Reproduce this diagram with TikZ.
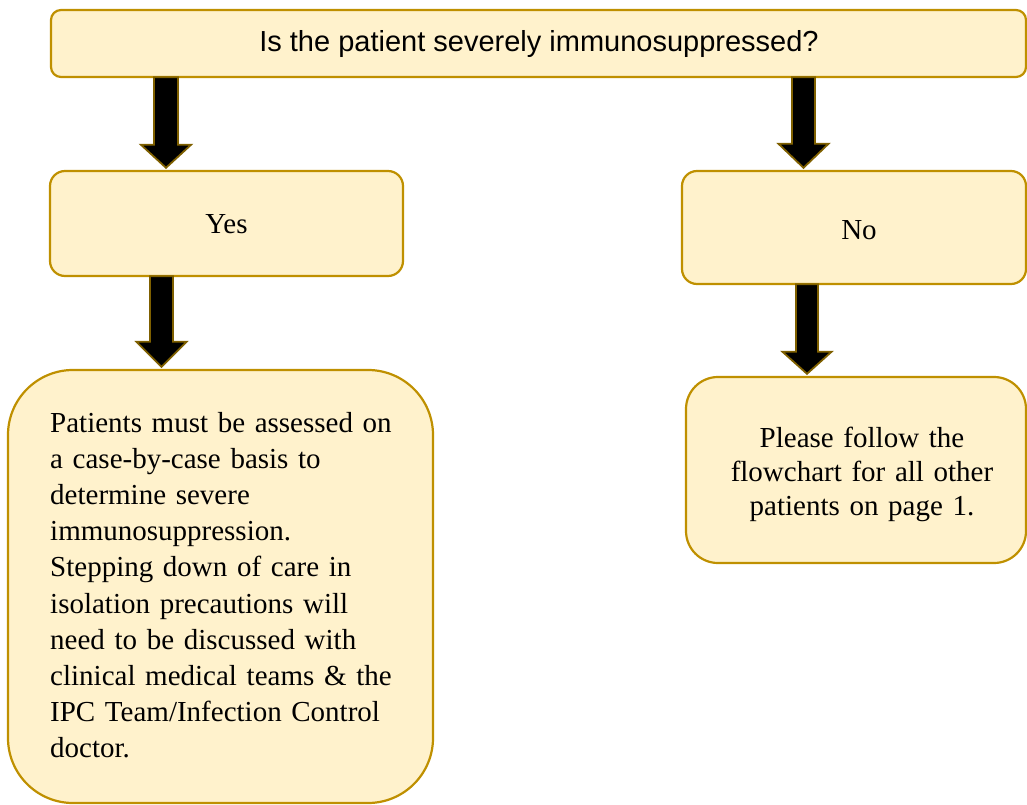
\documentclass[tikz,border=0pt]{standalone}
\usepackage{fontspec}
\setmainfont{Liberation Serif}
\newfontfamily\arialf{Liberation Sans}
\usetikzlibrary{calc}
\definecolor{boxfill}{HTML}{FFF2CC}
\definecolor{boxline}{HTML}{BF9000}
\definecolor{arrline}{HTML}{7F6000}
\tikzset{
  fbox/.style={draw=boxline, fill=boxfill, line width=2.2pt},
  blockarr/.style={fill=black, draw=arrline, line width=1.8pt, line join=miter},
  txt/.style={inner sep=0pt, font=\fontsize{29}{36.2}\selectfont}
}
% #1 x centre (pt), #2 source node, #3 target node, #4 shaft half width, #5 head half width, #6 head length
\newcommand\blockarrow[6]{%
  \path[blockarr] let \p1=(#2.south), \p2=(#3.north) in
    (#1pt-#4pt,\y1) -- (#1pt+#4pt,\y1) -- (#1pt+#4pt,\y2+#6pt+3pt) -- (#1pt+#5pt,\y2+#6pt+3pt)
    -- (#1pt,\y2+3pt) -- (#1pt-#5pt,\y2+#6pt+3pt) -- (#1pt-#4pt,\y2+#6pt+3pt) -- cycle;}
\begin{document}
\begin{tikzpicture}[x=1pt,y=1pt]
\useasboundingbox (0,0) rectangle (1027,-805);
% boxes
\path[fbox, rounded corners=10pt] (51,-10) rectangle (1026,-77);
\node[inner sep=0pt, minimum width=975pt, minimum height=67pt] (top) at (538.5,-43.5) {};
\path[fbox, rounded corners=15pt] (50,-171) rectangle (403,-276);
\node[inner sep=0pt, minimum width=353pt, minimum height=105pt] (yes) at (226.5,-223.5) {};
\path[fbox, rounded corners=15pt] (682,-171) rectangle (1026,-284);
\node[inner sep=0pt, minimum width=344pt, minimum height=113pt] (no) at (854,-227.5) {};
\path[fbox, rounded corners=65pt] (8,-370) rectangle (433,-803);
\node[inner sep=0pt, minimum width=425pt, minimum height=433pt] (assess) at (220.5,-586.5) {};
\path[fbox, rounded corners=32pt] (686,-377) rectangle (1026,-563);
\node[inner sep=0pt, minimum width=340pt, minimum height=186pt] (follow) at (856,-470) {};
% texts
\node[inner sep=0pt, font=\arialf\fontsize{29}{34}\selectfont] (q) at (539,-44) {Is the patient severely immunosuppressed?};
\node[txt, anchor=base] (yest) at (226.5,-233) {Yes};
\node[txt, anchor=base] (not) at (859,-239) {No};
\node[txt, anchor=base west, text width=380pt, align=left] (assesst) at (50,-432)
 {Patients must be assessed on\\a case-by-case basis to\\determine severe\\immunosuppression.\\Stepping down of care in\\isolation precautions will\\need to be discussed with\\clinical medical teams \& the\\IPC Team/Infection Control\\doctor.};
\node[inner sep=0pt, anchor=base, text width=330pt, align=center, font=\fontsize{29}{34}\selectfont] (followt) at (862,-447)
 {Please follow the\\flowchart for all other\\patients on page 1.};
% arrows
\blockarrow{166}{top}{yes}{12}{25}{23}
\blockarrow{803.5}{top}{no}{11.5}{25}{24}
\blockarrow{161.5}{yes}{assess}{11.5}{25}{25}
\blockarrow{807}{no}{follow}{11}{24.5}{22}
\end{tikzpicture}
\end{document}
